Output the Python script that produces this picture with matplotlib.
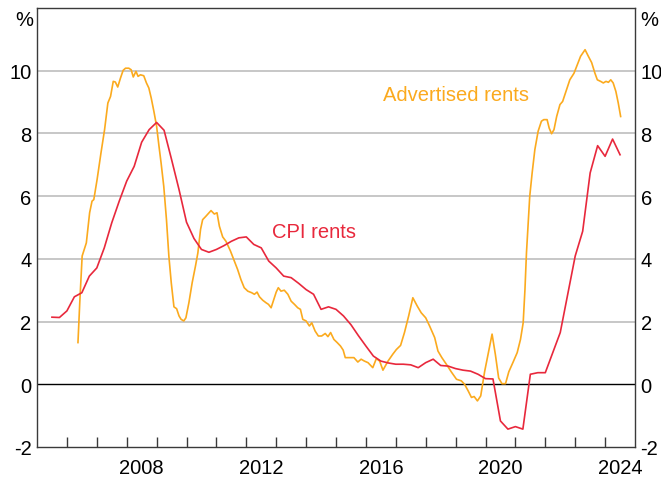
import numpy as np
import matplotlib
matplotlib.use("Agg")
import matplotlib.pyplot as plt
from matplotlib.ticker import FixedLocator, NullFormatter, FixedFormatter

plt.rcParams['font.family'] = ['Liberation Sans', 'DejaVu Sans']

# CPI rents, quarterly, year-ended % change
cpi_start = 2005.5
cpi_rents = [2.14, 2.13, 2.34, 2.79, 2.92, 3.45, 3.71, 4.35, 5.15, 5.84,
             6.48, 6.95, 7.72, 8.12, 8.35, 8.10, 7.17, 6.21, 5.17, 4.65,
             4.30, 4.21, 4.30, 4.42, 4.56, 4.67, 4.70, 4.46, 4.35, 3.93,
             3.71, 3.45, 3.40, 3.22, 3.02, 2.87, 2.39, 2.47, 2.39, 2.18,
             1.90, 1.55, 1.22, 0.90, 0.74, 0.68, 0.64, 0.64, 0.62, 0.53,
             0.69, 0.80, 0.60, 0.58, 0.50, 0.45, 0.42, 0.32, 0.18, 0.17,
             -1.17, -1.43, -1.35, -1.43, 0.32, 0.37, 0.37, 1.01, 1.65, 2.87,
             4.09, 4.88, 6.74, 7.61, 7.27, 7.82, 7.32]

# Advertised rents, year-ended % change
adv_dates = [2006.37, 2006.43, 2006.51, 2006.65, 2006.76, 2006.84, 2006.90, 2007.01,
             2007.14, 2007.26, 2007.37, 2007.46, 2007.55, 2007.62, 2007.70, 2007.79,
             2007.88, 2007.96, 2008.07, 2008.15, 2008.22, 2008.31, 2008.38, 2008.46,
             2008.57, 2008.66, 2008.74, 2008.82, 2008.91, 2009.00, 2009.08, 2009.15,
             2009.24, 2009.33, 2009.41, 2009.49, 2009.58, 2009.67, 2009.75, 2009.82,
             2009.91, 2009.98, 2010.08, 2010.19, 2010.30, 2010.38, 2010.47, 2010.54,
             2010.65, 2010.82, 2010.93, 2011.02, 2011.10, 2011.21, 2011.32, 2011.47,
             2011.58, 2011.71, 2011.82, 2011.93, 2012.05, 2012.18, 2012.27, 2012.36,
             2012.44, 2012.55, 2012.66, 2012.74, 2012.83, 2012.92, 2013.00, 2013.07,
             2013.16, 2013.27, 2013.39, 2013.50, 2013.61, 2013.72, 2013.81, 2013.89,
             2014.00, 2014.11, 2014.19, 2014.30, 2014.41, 2014.52, 2014.64, 2014.73,
             2014.82, 2014.93, 2015.04, 2015.15, 2015.24, 2015.31, 2015.45, 2015.60,
             2015.73, 2015.84, 2015.95, 2016.07, 2016.23, 2016.35, 2016.46, 2016.57,
             2016.74, 2016.90, 2017.02, 2017.16, 2017.29, 2017.43, 2017.57, 2017.72,
             2017.85, 2018.00, 2018.13, 2018.30, 2018.41, 2018.54, 2018.69, 2018.86,
             2019.03, 2019.19, 2019.30, 2019.42, 2019.53, 2019.62, 2019.73, 2019.84,
             2019.97, 2020.11, 2020.22, 2020.33, 2020.44, 2020.55, 2020.67, 2020.78,
             2020.92, 2021.06, 2021.17, 2021.26, 2021.32, 2021.37, 2021.43, 2021.48,
             2021.56, 2021.65, 2021.76, 2021.87, 2021.95, 2022.06, 2022.13, 2022.21,
             2022.29, 2022.38, 2022.49, 2022.58, 2022.69, 2022.82, 2022.96, 2023.07,
             2023.18, 2023.33, 2023.44, 2023.55, 2023.66, 2023.74, 2023.85, 2023.94,
             2024.03, 2024.11, 2024.19, 2024.27, 2024.36, 2024.44, 2024.52]
adv_rents = [1.33, 2.60, 4.09, 4.51, 5.47, 5.84, 5.89, 6.53,
             7.38, 8.12, 8.97, 9.18, 9.66, 9.64, 9.48, 9.76,
             10.01, 10.08, 10.08, 10.03, 9.80, 9.98, 9.82, 9.87,
             9.84, 9.61, 9.45, 9.13, 8.70, 8.23, 7.59, 7.06,
             6.31, 5.25, 4.09, 3.24, 2.47, 2.41, 2.18, 2.07,
             2.02, 2.12, 2.60, 3.24, 3.77, 4.19, 4.94, 5.25,
             5.36, 5.54, 5.43, 5.47, 5.04, 4.70, 4.56, 4.25,
             3.98, 3.66, 3.34, 3.08, 2.97, 2.92, 2.87, 2.94,
             2.79, 2.68, 2.60, 2.55, 2.44, 2.71, 2.94, 3.08,
             2.97, 3.00, 2.87, 2.65, 2.55, 2.44, 2.39, 2.07,
             2.02, 1.86, 1.96, 1.70, 1.54, 1.54, 1.62, 1.52,
             1.65, 1.43, 1.33, 1.22, 1.09, 0.85, 0.85, 0.85,
             0.71, 0.80, 0.74, 0.69, 0.53, 0.82, 0.74, 0.45,
             0.74, 0.96, 1.11, 1.24, 1.65, 2.18, 2.76, 2.49,
             2.28, 2.12, 1.86, 1.49, 1.06, 0.85, 0.64, 0.39,
             0.16, 0.11, 0.00, -0.21, -0.42, -0.39, -0.53, -0.37,
             0.40, 1.08, 1.60, 0.95, 0.20, 0.02, 0.02, 0.40,
             0.70, 1.01, 1.43, 1.96, 3.03, 4.19, 5.15, 6.00,
             6.74, 7.48, 8.07, 8.39, 8.44, 8.44, 8.17, 7.99,
             8.12, 8.54, 8.92, 9.02, 9.34, 9.71, 9.92, 10.19,
             10.46, 10.67, 10.46, 10.26, 9.92, 9.71, 9.66, 9.61,
             9.66, 9.63, 9.71, 9.61, 9.34, 8.97, 8.54]

year_ticks = list(range(2006, 2025))
label_years = [2008, 2012, 2016, 2020, 2024]
y_ticks = [-2, 0, 2, 4, 6, 8, 10]

ORANGE = '#FBAA1E'
RED = '#E8283C'
FS = 14.5

fig = plt.figure(figsize=(6.61, 4.81), dpi=100)
ax = fig.add_axes([37 / 661, 33 / 481, 598 / 661, 439 / 481])

cpi_dates = cpi_start + 0.25 * np.arange(len(cpi_rents))
ax.plot(adv_dates, adv_rents, color=ORANGE, lw=1.2, zorder=3)
ax.plot(cpi_dates, cpi_rents, color=RED, lw=1.2, zorder=4)

ax.set_xlim(2005, 2025)
ax.set_ylim(-2, 12)

# gridlines and zero line
for v in [2, 4, 6, 8, 10]:
    ax.axhline(v, color='#BEBEBE', lw=1.2, zorder=1)
ax.axhline(0, color='black', lw=1.0, zorder=2)

for s in ax.spines.values():
    s.set_color('#3A3A3A')
    s.set_linewidth(1.0)

# x ticks at year boundaries, labels mid-year
ax.xaxis.set_major_locator(FixedLocator(year_ticks))
ax.xaxis.set_major_formatter(NullFormatter())
ax.xaxis.set_minor_locator(FixedLocator([y + 0.5 for y in label_years]))
ax.xaxis.set_minor_formatter(FixedFormatter([str(y) for y in label_years]))
ax.tick_params(axis='x', which='major', direction='in', length=7.5, width=1.0,
               color='#3A3A3A')
ax.tick_params(axis='x', which='minor', length=0, pad=8, labelsize=FS)

ax.set_yticks(y_ticks)
ax.set_yticklabels([str(v) for v in y_ticks])
ax.tick_params(axis='y', which='both', length=0, pad=4, labelsize=FS,
               left=True, right=True, labelleft=True, labelright=True)

fig.text(24 / 661, 1 - 20 / 481, '%', ha='center', va='center', fontsize=FS)
fig.text(649 / 661, 1 - 20 / 481, '%', ha='center', va='center', fontsize=FS)

ax.text(2016.57, 9.25, 'Advertised rents', color=ORANGE, fontsize=FS,
        ha='left', va='center')
ax.text(2012.86, 4.87, 'CPI rents', color=RED, fontsize=FS,
        ha='left', va='center')

fig.savefig('out.png', dpi=100)
